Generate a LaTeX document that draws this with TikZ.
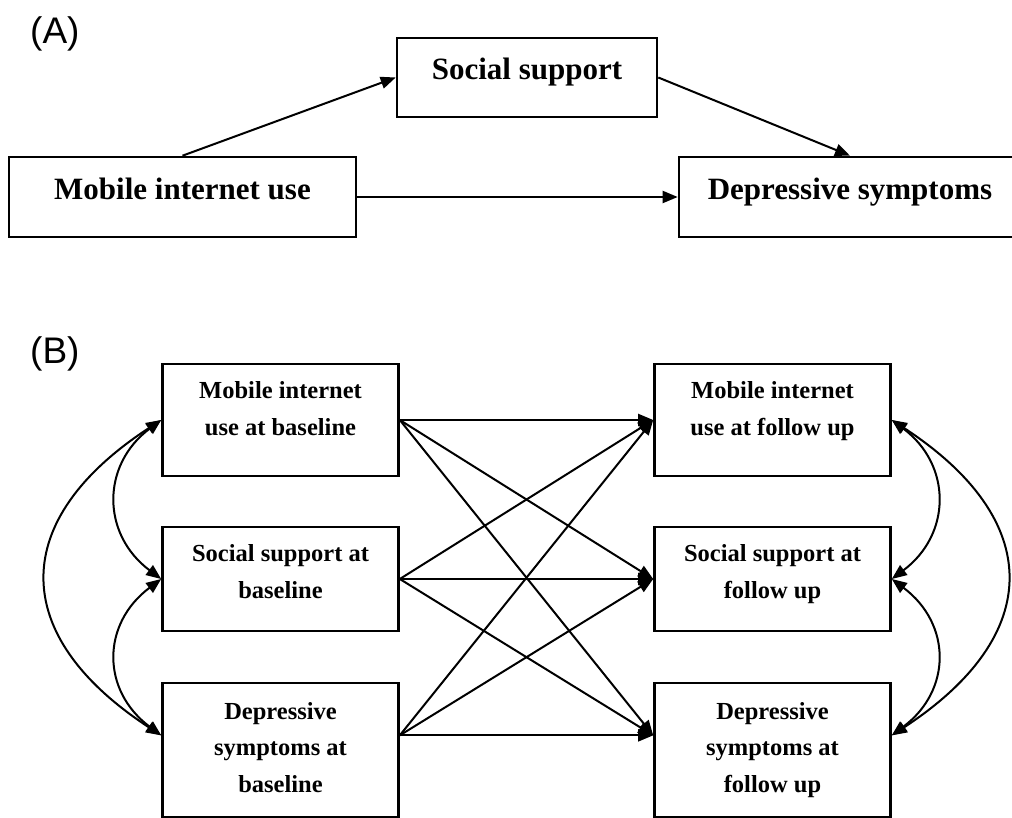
\documentclass[tikz,border=0pt]{standalone}
\usepackage{fontspec}
\setmainfont{Liberation Serif}
\newfontfamily\panelfont{Liberation Sans}
\usetikzlibrary{arrows.meta}
\newcommand\boxtext[3]{\raisebox{#1}[0pt][0pt]{\parbox[b]{#2}{\centering #3}}}
\begin{document}
\begin{tikzpicture}[x=1pt,y=-1pt,
  boxA/.style={draw, line width=2.6pt, inner sep=0pt, font=\bfseries\fontsize{31}{36}\selectfont},
  boxB/.style={draw, line width=2.6pt, inner sep=0pt, minimum width=236pt, font=\bfseries\fontsize{24.5}{36.5}\selectfont},
  arr/.style={line width=2pt, -{Triangle[length=15pt,width=12pt]}},
  dbl/.style={line width=2pt, {Triangle[length=15pt,width=12pt]}-{Triangle[length=15pt,width=12pt]}},
  lab/.style={font=\panelfont\fontsize{37}{42}\selectfont, inner sep=0pt, anchor=base west}]

\useasboundingbox (0,0) rectangle (1012,818);

% Panel labels
\node[lab] (la) at (30,44) {(A)};
\node[lab] (lb) at (30,363) {(B)};

% Panel A
\node[boxA, minimum width=347pt, minimum height=80pt] (miu) at (182.5,197) {\boxtext{-3pt}{330pt}{Mobile internet use}};
\node[boxA, minimum width=260pt, minimum height=79pt] (ss) at (527,77.5) {\boxtext{-2.5pt}{250pt}{Social support}};
\node[boxA, minimum width=342pt, minimum height=80pt] (ds) at (850,197) {\boxtext{-3pt}{330pt}{Depressive symptoms}};

\draw[arr] (miu.north) -- (ss.west);
\draw[arr] (ss.east) -- (ds.north);
\draw[arr] (miu.east) -- (ds.west);

% Panel B
\node[boxB, minimum height=112pt] (lmiu) at (280.5,420) {\boxtext{-15pt}{230pt}{Mobile internet\\use at baseline}};
\node[boxB, minimum height=104pt] (lss) at (280.5,579) {\boxtext{-19pt}{230pt}{Social support at\\baseline}};
\node[boxB, minimum height=134pt] (lds) at (280.5,750) {\boxtext{-42pt}{230pt}{Depressive\\symptoms at\\baseline}};

\node[boxB, minimum height=112pt] (rmiu) at (772.5,420) {\boxtext{-15pt}{230pt}{Mobile internet\\use at follow up}};
\node[boxB, minimum height=104pt] (rss) at (772.5,579) {\boxtext{-19pt}{230pt}{Social support at\\follow up}};
\node[boxB, minimum height=134pt] (rds) at (772.5,750) {\boxtext{-42pt}{230pt}{Depressive\\symptoms at\\follow up}};

\foreach \a in {lmiu.east, lss.east, lds.7}
  \foreach \b in {rmiu.west, rss.west, rds.173}
    \draw[arr] (\a) -- (\b);

% Left correlations
\draw[dbl] (lmiu.west) .. controls +(-60,45) and +(-60,-45) .. (lss.west);
\draw[dbl] (lss.west) .. controls +(-60,45) and +(-60,-45) .. (lds.173);
\draw[dbl] (lmiu.west) .. controls +(-153,100) and +(-153,-100) .. (lds.173);

% Right correlations
\draw[dbl] (rmiu.east) .. controls +(60,45) and +(60,-45) .. (rss.east);
\draw[dbl] (rss.east) .. controls +(60,45) and +(60,-45) .. (rds.7);
\draw[dbl] (rmiu.east) .. controls +(153,100) and +(153,-100) .. (rds.7);
\end{tikzpicture}
\end{document}
